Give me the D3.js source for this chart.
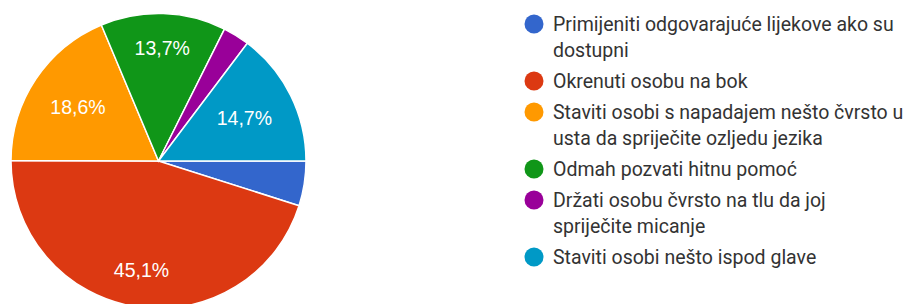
<!DOCTYPE html>
<html>
<head>
<meta charset="utf-8">
<script src="https://cdn.jsdelivr.net/npm/d3@7"></script>
<style>
  html, body { margin: 0; padding: 0; background: #fff; }
  #chart { width: 910px; height: 304px; overflow: hidden; }
</style>
</head>
<body>
<div id="chart"></div>
<script>
const categories = [
    "Primijeniti odgovarajuće lijekove ako su dostupni",
    "Okrenuti osobu na bok",
    "Staviti osobi s napadajem nešto čvrsto u usta da spriječite ozljedu jezika",
    "Odmah pozvati hitnu pomoć",
    "Držati osobu čvrsto na tlu da joj spriječite micanje",
    "Staviti osobi nešto ispod glave"
];
const percents = [4.9, 45.1, 18.6, 13.7, 2.9, 14.7];
const colors = ["#3366cc", "#dc3912", "#ff9900", "#109618", "#990099", "#0099c6"];

const width = 910, height = 304;
const cx = 158.5, cy = 161, radius = 147.5;

const svg = d3.select("#chart").append("svg")
    .attr("width", width)
    .attr("height", height);

const data = categories.map((c, i) => ({ name: c, value: percents[i], color: colors[i] }));

// slices start at 3 o'clock and go clockwise
const pie = d3.pie()
    .value(d => d.value)
    .sort(null)
    .startAngle(Math.PI / 2)
    .endAngle(Math.PI / 2 + 2 * Math.PI);

const arc = d3.arc().innerRadius(0).outerRadius(radius);
const arcs = pie(data);

const g = svg.append("g").attr("transform", `translate(${cx},${cy})`);

g.selectAll("path")
    .data(arcs)
    .join("path")
    .attr("d", arc)
    .attr("fill", d => d.data.color)
    .attr("stroke", "#fff")
    .attr("stroke-width", 1.5);

// percentage labels, only on slices big enough
const labelR = 124;
const labels = g.selectAll("text.pct")
    .data(arcs.filter(d => d.data.value >= 5))
    .join("text")
    .attr("class", "pct")
    .attr("font-family", "Liberation Sans, Arial, sans-serif")
    .attr("font-size", 19.5)
    .attr("fill", "#fff")
    .attr("text-anchor", "middle")
    .text(d => d.data.value.toFixed(1).replace(".", ",") + "%");

// push each label out until its farthest corner touches labelR
labels.each(function(d) {
    const a = (d.startAngle + d.endAngle) / 2;
    const sx = Math.sin(a), sy = -Math.cos(a);
    const w = this.getComputedTextLength() / 2, h = 7;
    const b = w * Math.abs(sx) + h * Math.abs(sy);
    const r = -b + Math.sqrt(b * b - (w * w + h * h - labelR * labelR));
    d3.select(this)
        .attr("x", r * sx)
        .attr("y", r * sy + 7);
});

// legend
const legendX = 534, textX = 553, maxTextW = 356;
const lineH = 26, itemGap = 5;
const legend = svg.append("g");
let y = 24;

data.forEach(d => {
    const item = legend.append("g");
    item.append("circle")
        .attr("cx", legendX)
        .attr("cy", y)
        .attr("r", 9.5)
        .attr("fill", d.color);

    const text = item.append("text")
        .attr("font-family", "Roboto, sans-serif")
        .attr("font-size", 19.5)
        .attr("fill", "#333");

    // simple word wrap
    const words = d.name.split(" ");
    let line = [];
    let lineNo = 0;
    let tspan = text.append("tspan").attr("x", textX).attr("y", y + 7);
    words.forEach(word => {
        line.push(word);
        tspan.text(line.join(" "));
        if (tspan.node().getComputedTextLength() > maxTextW && line.length > 1) {
            line.pop();
            tspan.text(line.join(" "));
            line = [word];
            lineNo++;
            tspan = text.append("tspan")
                .attr("x", textX)
                .attr("y", y + 7 + lineNo * lineH)
                .text(word);
        }
    });
    y += (lineNo + 1) * lineH + itemGap;
});
</script>
</body>
</html>
